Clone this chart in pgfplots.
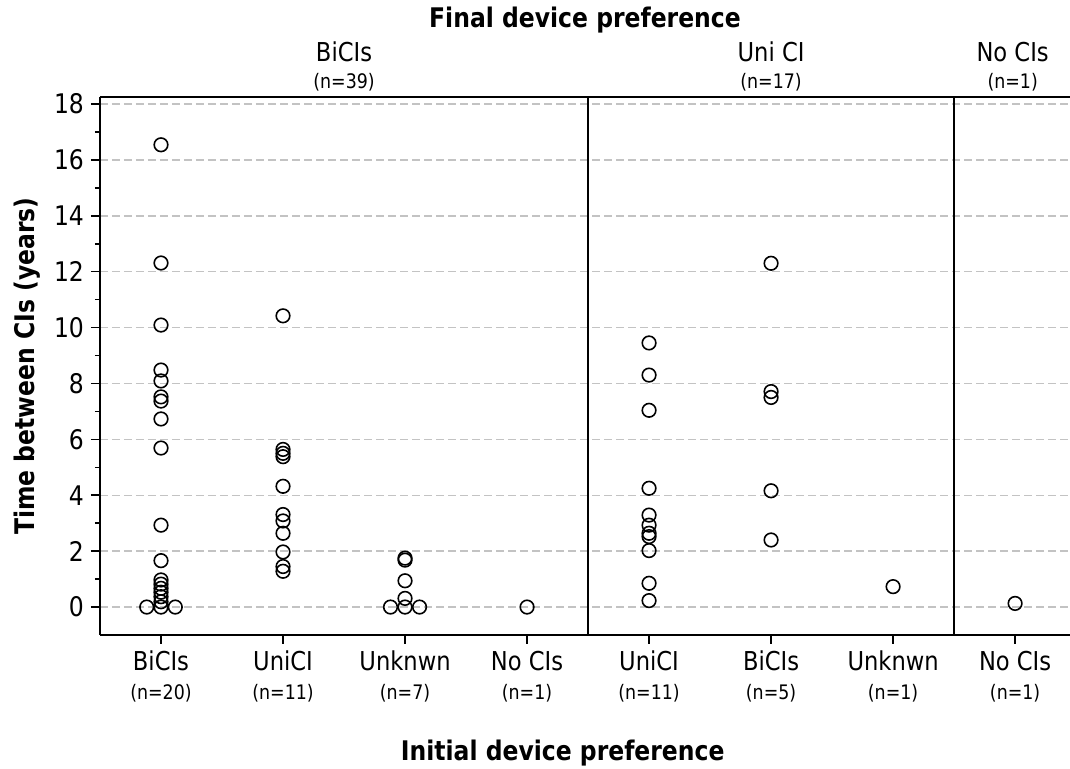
\documentclass[border=0pt]{standalone}
\usepackage{fontspec}
\setmainfont{DejaVu Sans}[FakeStretch=0.87]
\usepackage{pgfplots}
\pgfplotsset{compat=1.18}
\definecolor{gridgray}{RGB}{195,195,195}
\pgfplotstableread{
x y
0 16.54
0 12.31
0 10.09
0 8.48
0 8.09
0 7.52
0 7.37
0 6.73
0 5.69
0 2.93
0 1.66
0 0.97
0 0.82
0 0.67
0 0.53
0 0.37
0 0.19
0 0
-0.117 0
0.117 0
1 10.42
1 5.64
1 5.50
1 5.38
1 4.32
1 3.31
1 3.08
1 2.64
1 1.97
1 1.45
1 1.28
2 1.75
2 1.68
2 0.94
2 0.31
2 0
1.881 0
2.119 0
3 0
}\panelA
\pgfplotstableread{
x y
4 9.45
4 8.30
4 7.04
4 4.25
4 3.29
4 2.93
4 2.64
4 2.52
4 2.02
4 0.85
4 0.23
5 12.30
5 7.71
5 7.50
5 4.16
5 2.40
6 0.73
}\panelB
\pgfplotstableread{
x y
7 0.13
}\panelC
\newcommand{\nsz}{\fontsize{10}{11}\selectfont}
\begin{document}
\begin{tikzpicture}
\begin{axis}[
  name=ax,
  scale only axis,
  width=485pt, height=269pt,
  xmin=-0.5, xmax=7.45,
  ymin=-1, ymax=18.25,
  clip=false,
  axis x line*=box,
  axis y line*=left,
  axis line style={line width=1pt, black},
  xtick pos=left, ytick pos=left,
  tick align=outside,
  major tick length=4.5pt, minor tick length=2.5pt,
  every tick/.style={black, line width=0.8pt},
  ytick={0,2,...,18},
  minor ytick={1,3,...,17},
  xtick={0,1,2,3,4,5,6,7},
  xticklabels={
    {BiCIs\\{\nsz (n=20)}},
    {UniCI\\{\nsz (n=11)}},
    {Unknwn\\{\nsz (n=7)}},
    {No CIs\\{\nsz (n=1)}},
    {UniCI\\{\nsz (n=11)}},
    {BiCIs\\{\nsz (n=5)}},
    {Unknwn\\{\nsz (n=1)}},
    {No CIs\\{\nsz (n=1)}}},
  x tick label style={align=center, font=\fontsize{13}{14.5}\selectfont},
  y tick label style={font=\fontsize{13.5}{14}\selectfont},
  /pgf/number format/assume math mode=true,
  ymajorgrids,
  major grid style={gridgray, line width=0.75pt, dash pattern=on 4pt off 2pt},
  ylabel={Time between CIs (years)},
  ylabel style={font=\bfseries\fontsize{13.5}{15}\selectfont},
  xlabel={Initial device preference},
  xlabel style={font=\bfseries\fontsize{13.5}{15}\selectfont, at={(rel axis cs:0.477,0)}, anchor=center, yshift=-59pt},
  title={Final device preference},
  title style={font=\bfseries\fontsize{13.5}{15}\selectfont, at={(rel axis cs:0.5,1)}, anchor=center, yshift=32.5pt},
]
\addplot[only marks, mark=o, mark size=3.4pt, mark options={line width=0.8pt, black}] table[x=x,y=y] {\panelA};
\addplot[only marks, mark=o, mark size=3.4pt, mark options={line width=0.8pt, black}] table[x=x,y=y] {\panelB};
\addplot[only marks, mark=o, mark size=3.4pt, mark options={line width=0.8pt, black}] table[x=x,y=y] {\panelC};
\draw[black, line width=1pt] (axis cs:3.5,-1) -- (axis cs:3.5,18.25);
\draw[black, line width=1pt] (axis cs:6.5,-1) -- (axis cs:6.5,18.25);
\node[font=\fontsize{13}{14}\selectfont, anchor=center, yshift=22.5pt] at (axis cs:1.5,18.25) {BiCIs};
\node[font=\nsz, anchor=center, yshift=7.5pt] at (axis cs:1.5,18.25) {(n=39)};
\node[font=\fontsize{13}{14}\selectfont, anchor=center, yshift=22.5pt] at (axis cs:5,18.25) {Uni CI};
\node[font=\nsz, anchor=center, yshift=7.5pt] at (axis cs:5,18.25) {(n=17)};
\node[font=\fontsize{13}{14}\selectfont, anchor=center, yshift=22.5pt] at (axis cs:6.98,18.25) {No CIs};
\node[font=\nsz, anchor=center, yshift=7.5pt] at (axis cs:6.98,18.25) {(n=1)};
\end{axis}
\pgfresetboundingbox
\path (ax.south west) ++(-50pt,-67pt) coordinate (bbsw);
\path (ax.north east) ++(0pt,48.5pt) coordinate (bbne);
\path (bbsw) rectangle (bbne);
\end{tikzpicture}
\end{document}
